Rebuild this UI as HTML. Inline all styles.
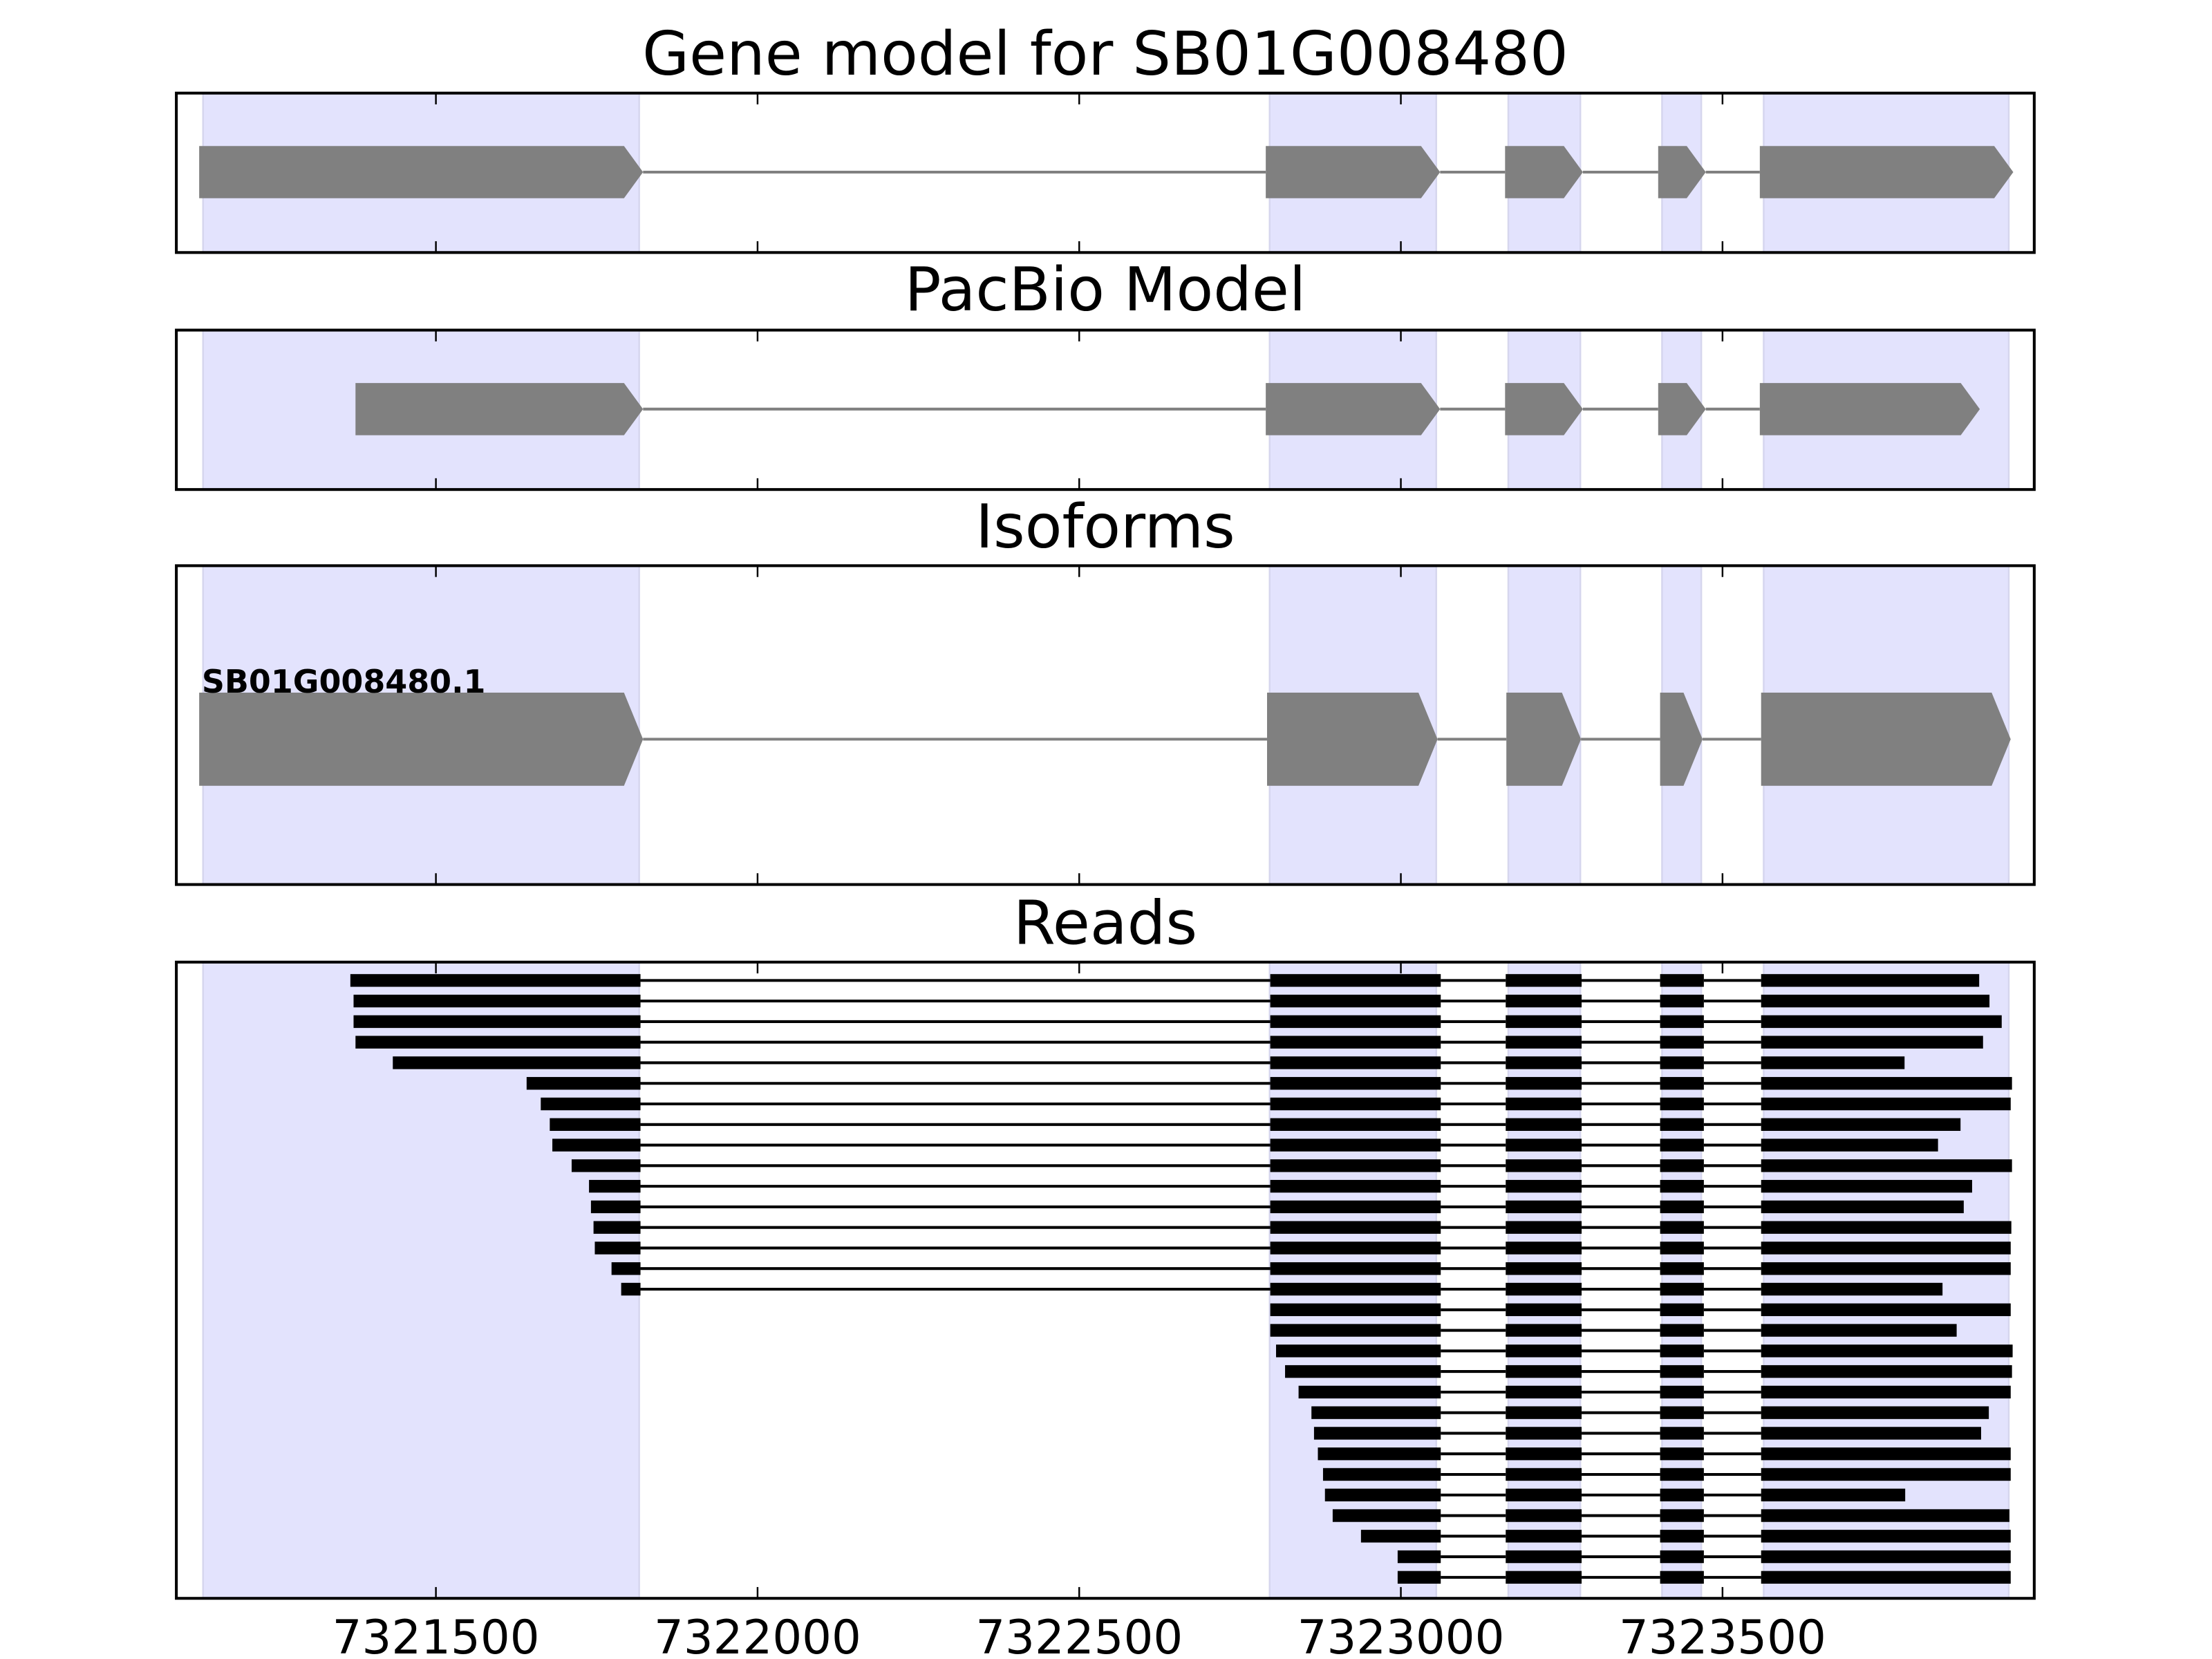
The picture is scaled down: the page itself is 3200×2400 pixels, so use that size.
<!DOCTYPE html>
<html><head><meta charset="utf-8"><title>Gene model for SB01G008480</title>
<style>
html,body{margin:0;padding:0;background:#fff;}
svg{display:block;}
text{font-family:"DejaVu Sans","Liberation Sans",sans-serif;}
</style></head>
<body>
<svg id="chart" xmlns="http://www.w3.org/2000/svg" width="3200" height="2400" viewBox="0 0 1568 1176">
<rect x="0" y="0" width="1568" height="1176" fill="#fff"/>
</svg>
<script>
// ---- data ----
const xTicks = [7321500, 7322000, 7322500, 7323000, 7323500];
const xTickLabels = ["7321500", "7322000", "7322500", "7323000", "7323500"];
const shadeStarts = [7321138, 7322796, 7323167, 7323406, 7323564];
const shadeEnds   = [7321816, 7323055, 7323279, 7323467, 7323945];
const geneExonStarts = [7321132, 7322790, 7323162, 7323400, 7323558];
const geneExonEnds   = [7321822, 7323061, 7323283, 7323474, 7323952];
const pacExonStarts = [7321375, 7322790, 7323162, 7323400, 7323558];
const pacExonEnds   = [7321822, 7323061, 7323283, 7323474, 7323900];
const isoExonStarts = [7321132, 7322792, 7323164, 7323403, 7323560];
const isoExonEnds   = [7321822, 7323057, 7323280, 7323469, 7323948];
const isoformName = "SB01G008480.1";
const readExonStarts = [7320000, 7322797, 7323163, 7323403, 7323560];
const readExonEnds   = [7321818, 7323062, 7323281, 7323471, 7330000];
const readStarts = [7321367,7321372,7321372,7321375,7321433,7321641,7321663,7321677,7321681,7321711,
  7321738,7321741,7321745,7321747,7321773,7321788,7322793,7322794,7322806,7322820,
  7322841,7322861,7322865,7322871,7322879,7322882,7322894,7322938,7322995,7322995];
const readEnds = [7323899,7323915,7323934,7323905,7323783,7323950,7323948,7323870,7323835,7323950,
  7323888,7323875,7323949,7323948,7323948,7323842,7323948,7323864,7323951,7323950,
  7323948,7323914,7323902,7323948,7323948,7323784,7323946,7323948,7323948,7323948];

// ---- layout ----
const NS = "http://www.w3.org/2000/svg";
const svg = document.getElementById("chart");
const AX_L = 125, AX_R = 1442;
const XMIN = 7321096.5, XMAX = 7323984.6;
function xs(v){ return AX_L + (v - XMIN) / (XMAX - XMIN) * (AX_R - AX_L); }
const panels = [
  {top:66, bot:179, title:"Gene model for SB01G008480", ty:53, name:"gene-model-panel"},
  {top:234, bot:347, title:"PacBio Model", ty:220, name:"pacbio-model-panel"},
  {top:401, bot:627, title:"Isoforms", ty:388, name:"isoforms-panel"},
  {top:682, bot:1133, title:"Reads", ty:669, name:"reads-panel"}
];
function mk(tag, attrs, parent){
  const el = document.createElementNS(NS, tag);
  for (const k in attrs) el.setAttribute(k, attrs[k]);
  (parent || svg).appendChild(el);
  return el;
}
const HEAD = 13.5;
function geneArrow(g, s, e, cy, h, fill){
  const x0 = xs(s), x1 = xs(e);
  const hb = Math.min(HEAD, (x1 - x0) * 0.6);
  const pts = [[x0,cy-h/2],[x1-hb,cy-h/2],[x1,cy],[x1-hb,cy+h/2],[x0,cy+h/2]].map(p=>p.join(",")).join(" ");
  const el = mk("polygon", {points:pts, fill:fill}, g);
  
  
}
function line(g, x1, x2, y, w, col, name){
  const el = mk("line", {x1:x1, x2:x2, y1:y, y2:y, stroke:col, "stroke-width":w}, g);
  
  
}
function drawModel(g, starts, ends, cy, h){
  for (let i = 0; i < starts.length - 1; i++)
    line(g, xs(ends[i]), xs(starts[i+1]), cy, 2, "#808080", "intron-line");
  for (let i = 0; i < starts.length; i++) geneArrow(g, starts[i], ends[i], cy, h, "#808080");
}

panels.forEach((p, pi) => {
  const g = mk("g", {});
  
  
  for (let i = 0; i < shadeStarts.length; i++){
    const r = mk("rect", {x:xs(shadeStarts[i]), y:p.top, width:xs(shadeEnds[i]) - xs(shadeStarts[i]), height:p.bot - p.top,
      fill:"#e3e3fd", stroke:"#d6d6ee", "stroke-width":1.2}, g);
    
    
  }
  if (pi === 0) drawModel(g, geneExonStarts, geneExonEnds, 122, 37);
  if (pi === 1) drawModel(g, pacExonStarts, pacExonEnds, 290, 37);
  if (pi === 2){
    drawModel(g, isoExonStarts, isoExonEnds, 524, 66);
    const t = mk("text", {x:143, y:491, "font-size":22.5, "font-weight":"bold", fill:"#000"}, g);
    t.textContent = isoformName;
    
    
  }
  if (pi === 3){
    for (let r = 0; r < readStarts.length; r++){
      const y = 695 + r * 14.59;
      const blocks = [];
      for (let k = 0; k < readExonStarts.length; k++){
        const s = Math.max(readStarts[r], readExonStarts[k]);
        const e = Math.min(readEnds[r], readExonEnds[k]);
        if (e > s) blocks.push([s, e]);
      }
      for (let k = 0; k < blocks.length - 1; k++)
        line(g, xs(blocks[k][1]), xs(blocks[k+1][0]), y, 2, "#000", "read-intron");
      blocks.forEach(b => {
        const rc = mk("rect", {x:xs(b[0]), y:y - 4.5, width:xs(b[1]) - xs(b[0]), height:9, fill:"#000"}, g);
        
        
      });
    }
  }
  xTicks.forEach(t => {
    const x = xs(t);
    const a = mk("line", {x1:x, x2:x, y1:p.top, y2:p.top + 8, stroke:"#000", "stroke-width":1.2}, g);
    
    
    const b = mk("line", {x1:x, x2:x, y1:p.bot, y2:p.bot - 8, stroke:"#000", "stroke-width":1.2}, g);
    
    
  });
  const fr = mk("rect", {x:AX_L, y:p.top, width:AX_R - AX_L, height:p.bot - p.top, fill:"none", stroke:"#000", "stroke-width":2}, g);
  
  
  const tt = mk("text", {x:(AX_L + AX_R) / 2, y:p.ty, "font-size":43, "text-anchor":"middle", fill:"#000"}, g);
  tt.textContent = p.title;
  
  
});
xTicks.forEach((t, i) => {
  const tl = mk("text", {x:xs(t), y:1172, "font-size":33, "text-anchor":"middle", fill:"#000"});
  tl.textContent = xTickLabels[i];
  
  
});
</script>
</body></html>
